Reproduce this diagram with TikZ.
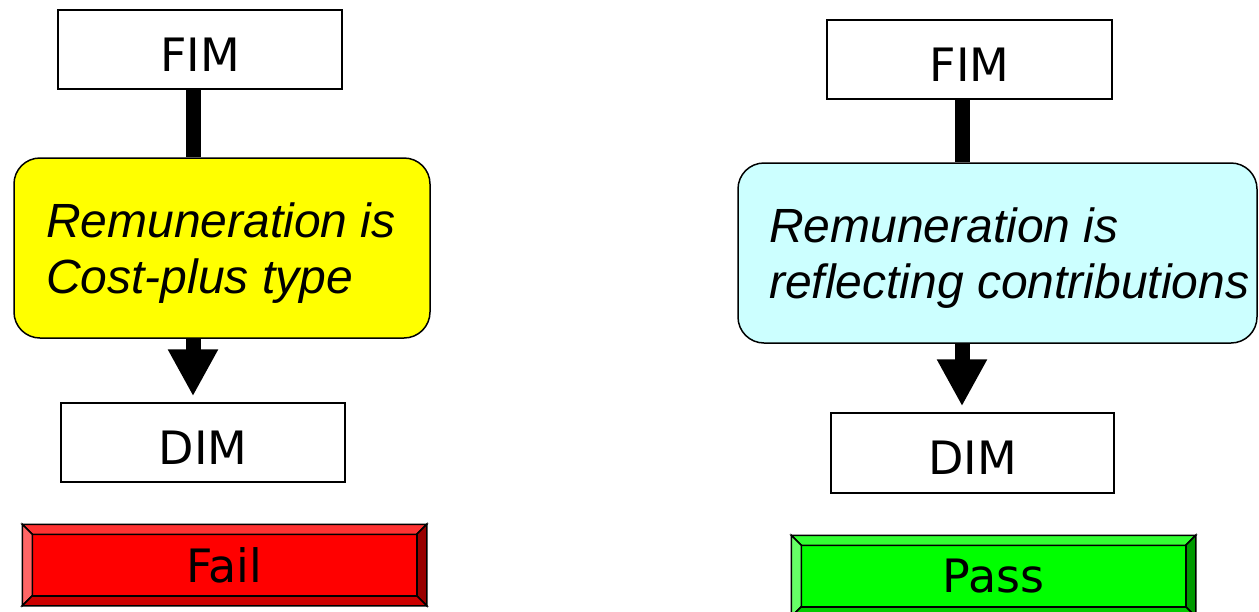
\documentclass[tikz,border=0pt]{standalone}
\usepackage{fontspec}
\newfontfamily\djfont{DejaVu Sans}
\newfontfamily\arfont{Liberation Sans}
\usetikzlibrary{arrows.meta,calc}
\definecolor{failmid}{HTML}{FF0000}
\definecolor{failtop}{HTML}{FF3333}
\definecolor{failleft}{HTML}{FF6666}
\definecolor{failright}{HTML}{990000}
\definecolor{failbot}{HTML}{CC0000}
\definecolor{passmid}{HTML}{00FF00}
\definecolor{passtop}{HTML}{33FF33}
\definecolor{passleft}{HTML}{66FF66}
\definecolor{passright}{HTML}{009900}
\definecolor{passbot}{HTML}{00CC00}
\definecolor{costfill}{HTML}{FFFF00}
\definecolor{contfill}{HTML}{CCFFFF}
\newcommand\drawbevels[5]{%
  \draw[bevel,fill=#2] (#1.north west) -- (#1.north east) -- ($(#1.north east)+(-10,10)$) -- ($(#1.north west)+(10,10)$) -- cycle;
  \draw[bevel,fill=#3] (#1.north west) -- ($(#1.north west)+(10,10)$) -- ($(#1.south west)+(10,-10)$) -- (#1.south west) -- cycle;
  \draw[bevel,fill=#4] (#1.north east) -- ($(#1.north east)+(-10,10)$) -- ($(#1.south east)+(-10,-10)$) -- (#1.south east) -- cycle;
  \draw[bevel,fill=#5] (#1.south west) -- ($(#1.south west)+(10,-10)$) -- ($(#1.south east)+(-10,-10)$) -- (#1.south east) -- cycle;
  \draw[bevel] ($(#1.north west)+(10,10)$) rectangle ($(#1.south east)+(-10,-10)$);
}
\begin{document}
\begin{tikzpicture}[x=1pt,y=-1pt,
  plainbox/.style={draw=black,line width=1.5pt,fill=white,minimum width=284pt,minimum height=79pt,inner sep=0pt,font=\djfont\fontsize{46}{54}\selectfont,text height=43pt,text depth=0pt},
  roundbox/.style={draw=black,line width=1.5pt,rounded corners=26pt,minimum height=180pt,inner sep=0pt},
  boxtext/.style={anchor=base west,inner sep=0pt,font=\arfont\itshape\fontsize{48}{56}\selectfont},
  stem/.style={line width=15pt},
  arrowstem/.style={line width=15pt,-{Triangle[width=47pt,length=47pt]},shorten >=6pt},
  button/.style={draw=black,line width=1.5pt,minimum width=403pt,minimum height=80pt,inner sep=0pt,font=\djfont\fontsize{46}{54}\selectfont},
  bevel/.style={draw=black,line width=1.5pt,line join=miter}
]
\clip (0,0) rectangle (1259,611);
\fill[white] (0,0) rectangle (1259,611);

% left column
\coordinate (axL) at (193,0);
\node[plainbox] (fimL) at (200,49.5) {FIM};
\node[roundbox,fill=costfill,minimum width=416pt] (costL) at (222,248) {};
\node[boxtext] (costL1) at (46,237) {Remuneration is};
\node[boxtext] (costL2) at (46,293) {Cost-plus type};
\node[plainbox] (dimL) at (203,442.5) {DIM};
\node[button,fill=failmid] (fail) at (224.5,565) {Fail};
\drawbevels{fail}{failtop}{failleft}{failright}{failbot}
\draw[stem] (fimL.south -| axL) -- (costL.north -| axL);
\draw[arrowstem] (costL.south -| axL) -- (dimL.north -| axL);

% right column
\coordinate (axR) at (962,0);
\node[plainbox,minimum width=285pt] (fimR) at (969.5,59.5) {FIM};
\node[roundbox,fill=contfill,minimum width=519pt] (contR) at (997.5,253) {};
\node[boxtext] (contR1) at (769,242) {Remuneration is};
\node[boxtext] (contR2) at (769,298) {reflecting contributions};
\node[plainbox,minimum width=283pt,minimum height=80pt] (dimR) at (972.5,453) {DIM};
\node[button,fill=passmid] (pass) at (993.5,576) {Pass};
\drawbevels{pass}{passtop}{passleft}{passright}{passbot}
\draw[stem] (fimR.south -| axR) -- (contR.north -| axR);
\draw[arrowstem] (contR.south -| axR) -- (dimR.north -| axR);
\end{tikzpicture}
\end{document}
